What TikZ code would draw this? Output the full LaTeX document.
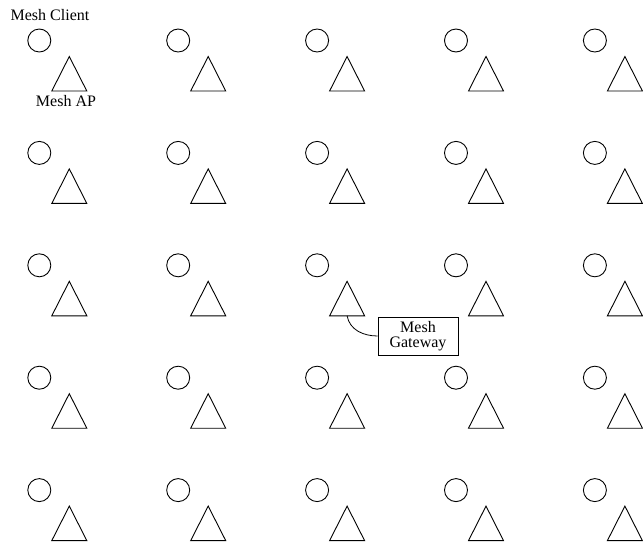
\documentclass[tikz,border=0pt]{standalone}
\usepackage{fontspec}
\setmainfont{Liberation Serif}
\begin{document}
\begin{tikzpicture}[x=1pt,y=-1pt,line width=0.9pt,
  client/.style={draw,circle,minimum size=23pt,inner sep=0pt},
  lbl/.style={font=\fontsize{16}{15}\selectfont,inner sep=0pt},
  gwbox/.style={draw,line width=0.8pt,minimum width=80pt,minimum height=38pt,inner sep=0pt,align=center,font=\fontsize{16}{15}\selectfont}]
\useasboundingbox (0,0) rectangle (643,544);
\foreach \i in {0,...,4}{
  \foreach \j in {0,...,4}{
    \pgfmathsetmacro{\cx}{39.3+138.9*\i}
    \pgfmathsetmacro{\cy}{40.5+112.4*\j}
    \node[client] (c-\i-\j) at (\cx,\cy) {};
    \draw[line join=miter] (\cx+30,\cy+16) -- (\cx+47.5,\cy+50.5) -- (\cx+12.5,\cy+50.5) -- cycle;
    \coordinate (ap-\i-\j) at (\cx+30,\cy+50.5);
  }
}
\node[lbl,anchor=base] (mc) at (50,20.7) {Mesh Client};
\node[lbl,anchor=base] (map) at (66,106.7) {Mesh AP};
\node[gwbox] (gw) at (418,336) {Mesh\\Gateway};
\draw[line width=0.8pt] (ap-2-2) to[out=-80,in=180] (gw.west);
\end{tikzpicture}
\end{document}
